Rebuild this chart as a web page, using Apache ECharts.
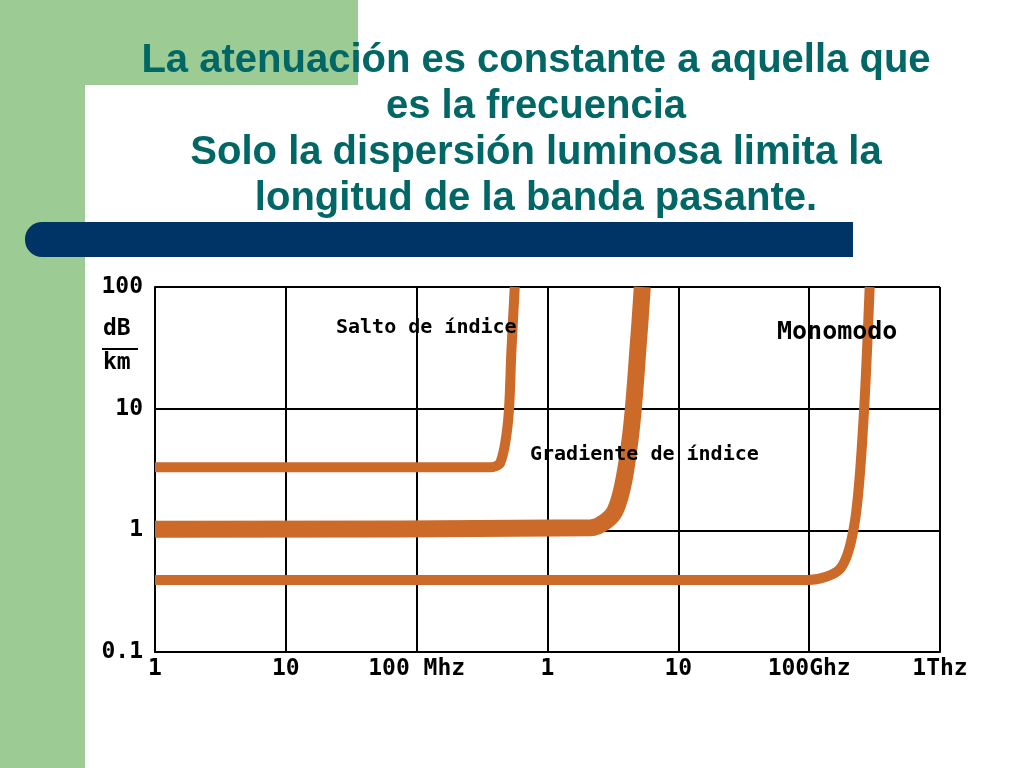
<!DOCTYPE html>
<html><head><meta charset="utf-8">
<script src="https://cdn.jsdelivr.net/npm/echarts@6/dist/echarts.min.js"></script>
<style>html,body{margin:0;padding:0;background:#fff}#c{width:1024px;height:768px}</style>
</head><body><div id="c"></div>
<script>
const xTicks = {1:'1',10:'10',100:'100 Mhz',1000:'1',10000:'10',100000:'100Ghz',1000000:'1Thz'};
const yTicks = {100:'100',10:'10',1:'1',0.1:'0.1'};
const saltoX = [1, 363, 436, 500, 530, 562];
const saltoY = [3.3, 3.3, 3.6, 8, 30, 100];
const gradX = [1, 2130, 3300, 4270, 5000, 5300];
const gradY = [1.02, 1.05, 1.46, 5.5, 40, 100];
const monoX = [1, 98000, 174000, 224000, 260000, 290000];
const monoY = [0.39, 0.39, 0.49, 1.2, 8, 100];
const zip = (a,b)=>a.map((v,i)=>[v,b[i]]);
const col = '#cc6a2a';
const chart = echarts.init(document.getElementById('c'));
const labelFont = {fontFamily:'DejaVu Sans Mono', fontWeight:'bold', fontSize:19, fill:'#000'};
chart.setOption({
  backgroundColor:'#fff',
  animation:false,
  grid:{left:155,right:84,top:287,bottom:116},
  xAxis:{type:'log',min:1,max:1000000,logBase:10,
    axisLine:{lineStyle:{color:'#000',width:2}},axisTick:{show:false},
    splitLine:{show:true,lineStyle:{color:'#000',width:2}},
    axisLabel:{formatter:v=>xTicks[Math.round(v)]||'',color:'#000',fontFamily:'DejaVu Sans Mono',fontWeight:'bold',fontSize:23,margin:6}},
  yAxis:{type:'log',min:0.1,max:100,logBase:10,
    axisLine:{lineStyle:{color:'#000',width:2}},axisTick:{show:false},
    splitLine:{show:true,lineStyle:{color:'#000',width:2}},
    axisLabel:{formatter:v=>yTicks[v]||yTicks[+v.toPrecision(3)]||'',color:'#000',fontFamily:'DejaVu Sans Mono',fontWeight:'bold',fontSize:23,margin:12}},
  series:[
    {type:'line',data:zip(saltoX,saltoY),smooth:0.3,symbol:'none',lineStyle:{color:col,width:10}},
    {type:'line',data:zip(gradX,gradY),smooth:0.3,symbol:'none',lineStyle:{color:col,width:17}},
    {type:'line',data:zip(monoX,monoY),smooth:0.3,symbol:'none',lineStyle:{color:col,width:10}}
  ],
  graphic:[
    {type:'rect',shape:{x:0,y:0,width:85,height:768},style:{fill:'#9dcb94'},z:-10},
    {type:'rect',shape:{x:0,y:0,width:358,height:85},style:{fill:'#9dcb94'},z:-10},
    {type:'rect',shape:{x:85,y:85,width:60,height:60,r:[40,0,0,0]},style:{fill:'#fff'},z:-9},
    {type:'rect',shape:{x:25,y:222,width:828,height:35,r:[17,0,0,17]},style:{fill:'#003366'},z:-8},
    {type:'text',style:{text:'La atenuación es constante a aquella que\nes la frecuencia\nSolo la dispersión luminosa limita la\nlongitud de la banda pasante.',
      x:536,y:38,textAlign:'center',font:'bold 40px "Liberation Sans", Arial',fill:'#006666',lineHeight:46}},
    {type:'text',style:Object.assign({text:'Salto de índice',x:336,y:318},labelFont,{fontSize:20}),z:20},
    {type:'text',style:Object.assign({text:'Gradiente de índice',x:530,y:445},labelFont,{fontSize:20}),z:20},
    {type:'text',style:Object.assign({text:'Monomodo',x:777,y:320},labelFont,{fontSize:25}),z:20},
    {type:'text',style:Object.assign({text:'dB',x:103,y:318},labelFont,{fontSize:23}),z:20},
    {type:'rect',shape:{x:102,y:348,width:36,height:2},style:{fill:'#000'}},
    {type:'text',style:Object.assign({text:'km',x:103,y:352},labelFont,{fontSize:23}),z:20}
  ]
});
</script></body></html>
